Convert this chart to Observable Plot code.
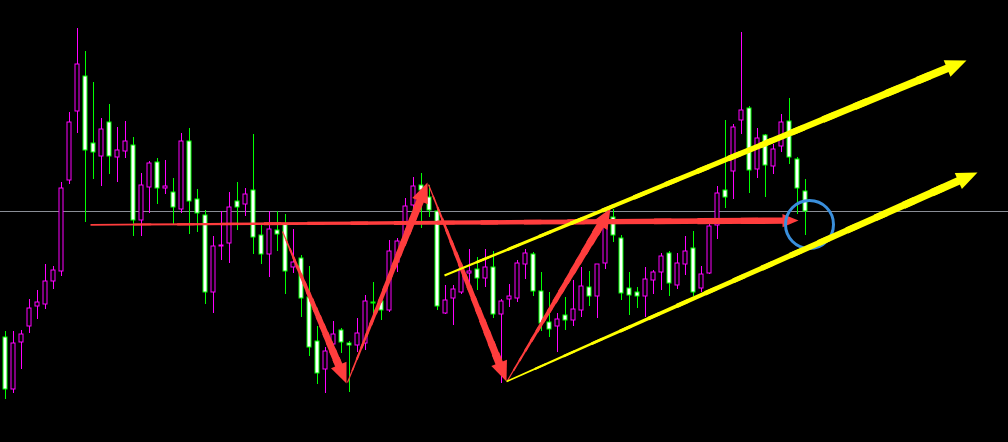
<!DOCTYPE html>
<html><head><meta charset="utf-8">
<script src="https://cdn.jsdelivr.net/npm/d3@7"></script>
<script src="https://cdn.jsdelivr.net/npm/@observablehq/plot@0.6"></script>
<style>html,body{margin:0;padding:0;background:#000;overflow:hidden}#chart{width:1008px;height:442px}</style>
</head><body><div id="chart"></div>
<script>
// ---- candle data (bar index = array position) ----
const open = [111.047,110.527,110.997,111.16,111.357,111.377,111.607,111.707,112.617,113.307,
113.657,112.987,112.857,113.197,112.847,112.907,112.967,112.217,112.547,112.797,
112.537,112.497,112.327,113.007,112.427,112.267,111.497,111.957,111.987,112.407,
112.377,112.517,112.067,111.877,112.117,112.177,111.747,111.837,111.455,111.01,
110.727,110.977,111.12,110.987,110.967,110.987,111.40,111.405,111.317,111.797,
112.017,112.367,112.567,112.455,112.31,111.287,111.437,111.497,111.687,111.727,
111.637,111.747,111.277,111.427,111.437,111.777,111.877,111.507,111.197,111.157,
111.267,111.217,111.317,111.547,111.457,111.787,112.247,112.037,111.537,111.497,
111.457,111.617,111.697,111.887,111.567,111.777,111.937,111.537,111.687,112.167,
112.517,112.707,113.217,113.337,112.727,113.067,112.757,112.957,113.207,112.827,
112.507];
const high = [111.11,111.11,111.12,111.43,111.52,111.78,111.76,112.60,113.30,114.14,
113.91,113.60,113.24,113.38,113.15,113.21,113.047,112.687,112.807,112.837,
112.817,112.637,113.09,113.14,112.527,112.317,112.06,112.307,112.497,112.597,
112.54,113.08,112.177,112.307,112.307,112.277,112.127,111.867,111.76,111.16,
110.953,111.21,111.137,111.01,111.237,111.467,111.597,111.417,112.017,112.037,
112.437,112.647,112.687,112.567,112.34,111.567,111.567,111.79,111.927,111.847,
111.927,111.907,111.427,111.577,111.817,111.927,111.897,111.697,111.497,111.287,
111.447,111.617,111.747,111.707,111.78,112.27,112.327,112.067,111.697,111.547,
111.747,111.717,111.887,111.907,111.887,112.057,112.107,111.757,112.187,112.557,
113.217,113.177,114.097,113.357,113.137,113.077,112.977,113.277,113.437,112.847,
112.627];
const low = [110.427,110.487,110.733,111.093,111.227,111.333,111.527,111.663,112.583,113.087,
112.203,112.633,112.557,112.683,112.597,112.837,112.063,112.063,112.287,112.377,
112.485,112.167,112.287,112.077,112.097,111.377,111.287,111.817,111.793,112.123,
112.257,111.877,111.777,111.647,111.907,111.477,111.687,111.255,110.855,110.577,
110.487,110.887,110.89,110.495,110.897,110.917,111.253,111.217,111.30,111.697,
112.01,112.205,112.137,112.255,111.317,111.285,111.167,111.48,111.587,111.517,
111.547,111.237,110.587,111.347,111.397,111.627,111.457,111.113,111.047,110.897,
111.117,111.157,111.247,111.357,111.237,111.727,112.003,111.417,111.267,111.337,
111.253,111.477,111.517,111.457,111.527,111.667,111.457,111.497,111.677,112.027,
112.337,112.427,113.077,112.487,112.637,112.447,112.677,112.897,112.777,112.277,
112.073];
const close = [110.527,110.987,111.077,111.337,111.397,111.607,111.717,112.537,113.197,113.777,
112.917,112.897,113.127,112.857,112.917,113.007,112.217,112.567,112.787,112.537,
112.557,112.347,113.007,112.407,112.287,111.497,111.957,111.967,112.347,112.347,
112.477,112.047,111.877,112.127,112.077,111.707,111.797,111.437,110.947,110.687,
110.907,111.077,110.997,110.967,111.087,111.407,111.39,111.317,111.907,112.007,
112.357,112.555,112.52,112.317,111.357,111.417,111.527,111.727,111.707,111.637,
111.747,111.277,111.407,111.457,111.787,111.887,111.507,111.187,111.127,111.227,
111.217,111.327,111.557,111.457,111.777,112.165,112.067,111.487,111.467,111.457,
111.627,111.697,111.857,111.587,111.787,111.907,111.497,111.677,112.157,112.487,
112.447,113.147,113.317,112.717,113.037,112.767,112.927,113.197,112.847,112.537,
112.307];

// ---- annotations (bar index / price) ----
const supportLevel = 112.308;
const arrowKind = ["neckline","leg","leg","leg","leg","channelTop","channelBottom"];
const arrowStartBar   = [10.625, 34.625, 42.75, 52.875, 62.75, 54.875, 62.625];
const arrowStartPrice = [112.177, 112.11, 110.60, 112.58, 110.62, 111.67, 110.61];
const arrowEndBar     = [99.125, 42.625, 52.75, 62.625, 75.625, 120.125, 121.5];
const arrowEndPrice   = [112.22, 110.59, 112.60, 110.61, 112.34, 113.82, 112.70];
const circleBar = [100.5];
const circlePrice = [112.18];

// ---- styles ----
const W = 1008, H = 442;
const xDomain = [-0.625, 125.375];
const yDomain = [110.0, 114.42];
const kx = W / (xDomain[1] - xDomain[0]);
const ky = H / (yDomain[1] - yDomain[0]);
const RED = "#ff3d3d", YELLOW = "#ffff00", GREEN = "#00ff00", MAGENTA = "#ff00ff";
const arrowStyle = {
  neckline:      {color: RED,    w0: 1.5, w1: 6.5, head: 16},
  leg:           {color: RED,    w0: 1,   w1: 8,   head: 20},
  channelTop:    {color: YELLOW, w0: 2,   w1: 8,   head: 21},
  channelBottom: {color: YELLOW, w0: 1.5, w1: 8,   head: 21}
};
const headSymbol = {
  draw(ctx, size) {
    const L = Math.sqrt(size / Math.PI);
    ctx.moveTo(0, 0);
    ctx.lineTo(0.42 * L, L);
    ctx.lineTo(-0.42 * L, L);
    ctx.closePath();
  }
};
// snap a price to the screen pixel grid so candle edges stay sharp
const snap = v => yDomain[1] - Math.round((yDomain[1] - v) * ky) / ky;

const candles = open.map((o, i) => ({i, open: o, high: high[i], low: low[i], close: close[i]}));
const bulls = candles.filter(d => d.close > d.open);
const bears = candles.filter(d => d.close <= d.open);

const shafts = [], heads = [];
arrowKind.forEach((kind, j) => {
  const s = arrowStyle[kind];
  const x1 = arrowStartBar[j], y1 = arrowStartPrice[j], x2 = arrowEndBar[j], y2 = arrowEndPrice[j];
  const px = (x2 - x1) * kx, py = -(y2 - y1) * ky;
  const len = Math.hypot(px, py), ux = px / len, uy = py / len;
  const xe = x2 - ux * s.head * 0.9 / kx, ye = y2 + uy * s.head * 0.9 / ky;
  const N = 16;
  for (let k = 0; k < N; k++) {
    const t0 = k / N, t1 = Math.min(1, (k + 1.4) / N);
    shafts.push({kind, x1: x1 + (xe - x1) * t0, y1: y1 + (ye - y1) * t0,
      x2: x1 + (xe - x1) * t1, y2: y1 + (ye - y1) * t1,
      w: s.w0 + (s.w1 - s.w0) * (k + 0.5) / N});
  }
  heads.push({kind, x: x2, y: y2, angle: Math.atan2(ux, -uy) * 180 / Math.PI});
});

const layer = (kinds) => kinds.flatMap(kind => [
  Plot.link(shafts.filter(d => d.kind === kind), {x1: "x1", y1: "y1", x2: "x2", y2: "y2",
    stroke: arrowStyle[kind].color, strokeWidth: "w", strokeLinecap: "butt"}),
  Plot.dot(heads.filter(d => d.kind === kind), {x: "x", y: "y", rotate: "angle",
    symbol: headSymbol, r: arrowStyle[kind].head, fill: arrowStyle[kind].color, stroke: "none"})
]);

const wick = (data, color) => Plot.ruleX(data, {x: "i", y1: d => snap(d.low), y2: d => snap(d.high), stroke: color});
const body = (data, fill, color) => Plot.rect(data, {x1: d => d.i - 0.25, x2: d => d.i + 0.25,
  y1: d => snap(d.open), y2: d => snap(d.close), fill, stroke: color});

const chart = Plot.plot({
  width: W, height: H, margin: 0,
  style: {background: "#000", overflow: "visible"},
  x: {type: "linear", domain: xDomain, axis: null},
  y: {type: "linear", domain: yDomain, axis: null},
  marks: [
    Plot.ruleY([snap(supportLevel)], {stroke: "#8a8e96", strokeWidth: 1}),
    wick(bulls, MAGENTA),
    wick(bears, GREEN),
    body(bulls, "#000", MAGENTA),
    body(bears, "#fff", GREEN),
    ...layer(["neckline", "leg"]),
    Plot.dot(circleBar.map((b, i) => ({x: b, y: circlePrice[i]})), {x: "x", y: "y", r: 24, stroke: "#3a8fdc", strokeWidth: 3, fill: "none"}),
    ...layer(["channelTop", "channelBottom"])
  ]
});
document.getElementById("chart").appendChild(chart);
</script>
</body></html>
